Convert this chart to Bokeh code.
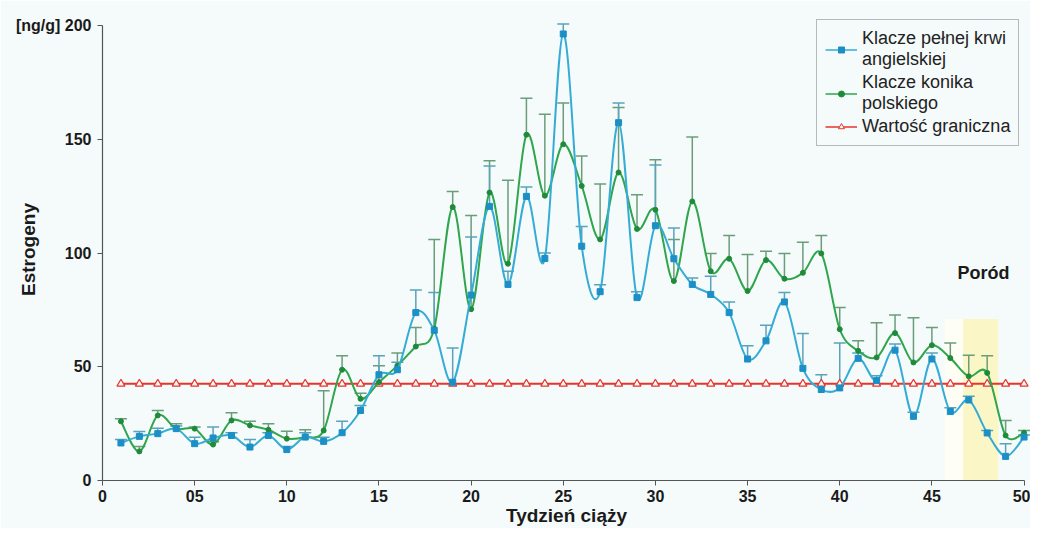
from bokeh.plotting import figure
from bokeh.models import (ColumnDataSource, Whisker, TeeHead, Label, BoxAnnotation,
                          Legend, LegendItem, FixedTicker)
from bokeh.embed import file_html
from bokeh.resources import INLINE

weeks = list(range(1, 51))

tb_mean = [16.5, 19.4, 20.6, 22.8, 16.2, 18.7, 19.8, 14.7, 19.8, 13.6,
           19.1, 17.2, 21.0, 30.8, 46.5, 48.7, 73.8, 66.0, 43.2, 81.5,
           120.5, 86.2, 124.9, 97.6, 196.3, 103.0, 83.0, 157.3, 80.4, 112.0,
           97.5, 86.2, 81.8, 73.8, 53.4, 61.4, 78.5, 49.3, 40.0, 40.7,
           53.7, 43.9, 57.3, 28.2, 53.4, 30.3, 35.4, 20.9, 10.6, 19.1]
tb_upper = [18.0, 21.5, 23.0, 24.0, 19.0, 23.5, 21.0, 18.0, 21.0, 15.0,
            21.0, 19.0, 26.0, 33.0, 54.8, 52.0, 83.7, 82.6, 58.2, 107.0,
            138.3, 92.0, 129.0, 100.0, 200.7, 111.7, 86.0, 166.0, 83.0, 138.7,
            111.0, 89.0, 89.8, 78.5, 59.2, 68.3, 82.6, 64.6, 46.5, 60.4,
            56.0, 46.0, 60.0, 30.0, 56.0, 32.0, 37.0, 22.0, 16.2, 20.0]

kp_mean = [26.0, 12.8, 28.6, 22.8, 22.8, 15.8, 26.4, 24.2, 22.3, 18.4,
           19.0, 22.0, 48.7, 35.9, 43.2, 50.5, 58.9, 66.8, 120.2, 75.3,
           126.6, 95.3, 152.0, 125.2, 147.8, 129.5, 106.0, 135.4, 110.6, 119.0,
           87.7, 122.7, 92.0, 97.5, 83.3, 96.9, 88.7, 91.3, 99.8, 66.5,
           57.0, 54.1, 64.8, 51.9, 59.5, 53.8, 45.8, 47.3, 19.8, 21.0]
kp_upper = [27.1, 15.0, 30.8, 25.0, 23.5, 17.0, 29.8, 26.0, 25.0, 21.6,
            22.3, 39.5, 54.8, 38.4, 50.5, 56.0, 67.3, 105.9, 127.0, 116.5,
            140.6, 132.0, 168.0, 161.0, 166.0, 142.7, 130.3, 164.0, 125.6, 141.0,
            106.0, 151.0, 99.8, 107.7, 99.3, 100.8, 99.8, 104.7, 107.7, 76.0,
            61.4, 69.4, 72.8, 71.6, 67.3, 60.4, 55.1, 54.8, 26.4, 22.0]

threshold = [42.5] * 50

x_ticks = [0, 5, 10, 15, 20, 25, 30, 35, 40, 45, 50]
x_tick_labels = ["0", "05", "10", "15", "20", "25", "30", "35", "40", "45", "50"]
y_ticks = [0, 50, 100, 150, 200]
y_tick_labels = ["0", "50", "100", "150", "[ng/g] 200"]

series_names = ["Klacze pełnej krwi\nangielskiej", "Klacze konika\npolskiego", "Wartość graniczna"]

BG = "#f5fafa"
BLUE = "#35acd6"
BLUE_M = "#1b8fc6"
GREEN = "#2fa64c"
GREEN_M = "#1f8a3a"
RED = "#e8352c"
FONT = "Liberation Sans"
NAN = float("nan")

p = figure(width=1030, height=528, output_backend="svg", toolbar_location=None,
           x_range=(0, 50.35), y_range=(0, 203.1),
           min_border_left=102, min_border_right=0, min_border_top=18, min_border_bottom=48,
           background_fill_color=BG, border_fill_color=BG, outline_line_color=None)
p.grid.visible = False

# delivery period shading
p.add_layout(BoxAnnotation(left=45.7, right=46.7, bottom=0, top=71,
                           fill_color="#fffef4", fill_alpha=1.0, line_color=None, level="underlay"))
p.add_layout(BoxAnnotation(left=46.7, right=48.6, bottom=0, top=71,
                           fill_color="#fbf6c6", fill_alpha=1.0, line_color=None, level="underlay"))


def smooth_source(xs, ys):
    n = len(xs)
    d = dict(x0=[], y0=[], x1=[], y1=[], cx0=[], cy0=[], cx1=[], cy1=[])
    for i in range(n - 1):
        xp, yp = (xs[i - 1], ys[i - 1]) if i > 0 else (xs[i], ys[i])
        xn2, yn2 = (xs[i + 2], ys[i + 2]) if i + 2 < n else (xs[i + 1], ys[i + 1])
        d["x0"].append(xs[i]); d["y0"].append(ys[i])
        d["x1"].append(xs[i + 1]); d["y1"].append(ys[i + 1])
        d["cx0"].append(xs[i] + (xs[i + 1] - xp) / 6.0)
        d["cy0"].append(ys[i] + (ys[i + 1] - yp) / 6.0)
        d["cx1"].append(xs[i + 1] - (xn2 - xs[i]) / 6.0)
        d["cy1"].append(ys[i + 1] - (yn2 - ys[i]) / 6.0)
    return ColumnDataSource(d)


# threshold
thr_src = ColumnDataSource(dict(x=weeks, y=threshold))
p.line("x", "y", source=thr_src, line_color=RED, line_width=2)
p.scatter("x", "y", source=thr_src, marker="triangle", size=8, fill_color=BG,
          line_color=RED, line_width=1.2)

# error bars
kp_src = ColumnDataSource(dict(x=weeks, y=kp_mean, up=kp_upper))
tb_src = ColumnDataSource(dict(x=weeks, y=tb_mean, up=tb_upper))
for src, col in ((kp_src, "#6a9e7a"), (tb_src, "#5aa3bc")):
    w = Whisker(source=src, base="x", lower="y", upper="up", line_color=col, line_width=1.5,
                upper_head=TeeHead(size=12, line_color=col, line_width=1.5), lower_head=None)
    p.add_layout(w)

# smoothed lines
p.bezier(x0="x0", y0="y0", x1="x1", y1="y1", cx0="cx0", cy0="cy0", cx1="cx1", cy1="cy1",
         source=smooth_source(weeks, kp_mean), line_color=GREEN, line_width=2)
p.scatter("x", "y", source=kp_src, marker="circle", size=5, fill_color=GREEN_M, line_color=GREEN_M)
p.bezier(x0="x0", y0="y0", x1="x1", y1="y1", cx0="cx0", cy0="cy0", cx1="cx1", cy1="cy1",
         source=smooth_source(weeks, tb_mean), line_color=BLUE, line_width=2)
p.scatter("x", "y", source=tb_src, marker="square", size=6, fill_color=BLUE_M, line_color=BLUE_M)

# legend proxies (one NaN point each, nothing drawn in the plot)
l1 = p.line(x=[NAN], y=[NAN], line_color=BLUE, line_width=1.5)
m1 = p.scatter(x=[NAN], y=[NAN], marker="square", size=6, fill_color=BLUE_M, line_color=BLUE_M)
l2 = p.line(x=[NAN], y=[NAN], line_color=GREEN, line_width=1.5)
m2 = p.scatter(x=[NAN], y=[NAN], marker="circle", size=5, fill_color=GREEN_M, line_color=GREEN_M)
l3 = p.line(x=[NAN], y=[NAN], line_color=RED, line_width=1.5)
m3 = p.scatter(x=[NAN], y=[NAN], marker="triangle", size=8, fill_color=BG, line_color=RED)

legend = Legend(items=[LegendItem(label=series_names[0], renderers=[l1, m1]),
                       LegendItem(label=series_names[1], renderers=[l2, m2]),
                       LegendItem(label=series_names[2], renderers=[l3, m3])],
                location=(714, 334), orientation="vertical",
                label_text_font=FONT, label_text_font_size="18px", label_text_color="#222222",
                label_text_line_height=1.15, glyph_width=32, glyph_height=15, label_standoff=5,
                spacing=2, padding=8, margin=0,
                border_line_color="#777777", border_line_width=1,
                background_fill_color=BG, background_fill_alpha=1.0)
p.add_layout(legend, "center")

p.add_layout(Label(x=47.8, y=91.4, text="Poród", text_font=FONT, text_font_size="18px",
                   text_font_style="bold", text_align="center", text_baseline="middle",
                   text_color="#1a1a1a"))

# axes
for ax in (p.xaxis[0], p.yaxis[0]):
    ax.axis_line_color = "#555555"
    ax.axis_line_width = 1.2
    ax.major_tick_line_color = "#555555"
    ax.major_tick_out = 5
    ax.major_tick_in = 0
    ax.minor_tick_line_color = None
    ax.major_label_text_font = FONT
    ax.major_label_text_font_size = "16px"
    ax.major_label_text_font_style = "bold"
    ax.major_label_text_color = "#1a1a1a"
    ax.axis_label_text_font = FONT
    ax.axis_label_text_font_size = "19px"
    ax.axis_label_text_font_style = "bold"
    ax.axis_label_text_color = "#1a1a1a"

p.xaxis.ticker = FixedTicker(ticks=x_ticks)
p.xaxis.major_label_overrides = {t: s for t, s in zip(x_ticks, x_tick_labels)}
p.xaxis.bounds = (0, 50)
p.xaxis.axis_label = "Tydzień ciąży"
p.xaxis.major_label_standoff = 4
p.xaxis.axis_label_standoff = 0

p.yaxis.ticker = FixedTicker(ticks=y_ticks)
p.yaxis.major_label_overrides = {t: s for t, s in zip(y_ticks, y_tick_labels)}
p.yaxis.bounds = (0, 200)
p.yaxis.axis_label = "Estrogeny"
p.yaxis.major_label_standoff = 6
p.yaxis.axis_label_standoff = -26

open("out.html", "w").write(file_html(p, INLINE))
